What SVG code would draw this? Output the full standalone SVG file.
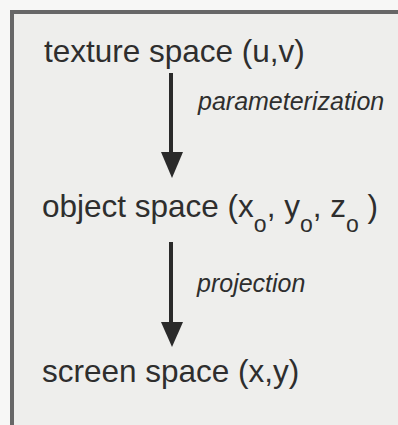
<svg xmlns="http://www.w3.org/2000/svg" width="398" height="425" viewBox="0 0 398 425">
<style>
.lbl{font-family:"Liberation Sans",Arial,sans-serif;font-size:31.5px;fill:#2e2e2e}
.sub{font-size:23px}
.edge{font-family:"Liberation Sans",Arial,sans-serif;font-size:25px;font-style:italic;fill:#2e2e2e}
.ln{stroke:#2a2a2a;stroke-width:4;fill:none}
.hd{fill:#2a2a2a}
</style>
<rect x="0" y="0" width="398" height="425" fill="#f7f7f6"/>
<rect x="12" y="12" width="400" height="420" fill="#eeeeec" stroke="#676767" stroke-width="4"/>
<g id="texture-space"><text class="lbl" x="44" y="62">texture space (u,v)</text></g>
<g id="object-space"><text class="lbl" x="42" y="217">object space (x<tspan class="sub" dy="15">o</tspan><tspan dy="-15">, y</tspan><tspan class="sub" dy="15">o</tspan><tspan dy="-15">, z</tspan><tspan class="sub" dy="15">o</tspan><tspan dy="-15"> )</tspan></text></g>
<g id="screen-space"><text class="lbl" x="42" y="382">screen space (x,y)</text></g>
<g id="connectors">
<line class="ln" x1="171" y1="73" x2="171" y2="155"/>
<polygon class="hd" points="161,152 183,152 172,178"/>
<text class="edge" x="198" y="110">parameterization</text>
<line class="ln" x1="171" y1="242" x2="171" y2="325"/>
<polygon class="hd" points="161,322 183,322 172,347"/>
<text class="edge" x="197" y="292">projection</text>
</g>
</svg>
